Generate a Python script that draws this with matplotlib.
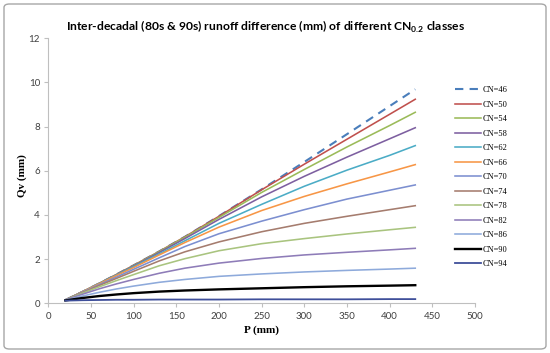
import matplotlib
matplotlib.use("Agg")
import matplotlib.pyplot as plt
from matplotlib.patches import FancyBboxPatch

# ---- data ----
P = [20, 40, 60, 80, 100, 130, 160, 200, 250, 300, 350, 400, 430]
cn_labels = ["CN=46", "CN=50", "CN=54", "CN=58", "CN=62", "CN=66", "CN=70",
             "CN=74", "CN=78", "CN=82", "CN=86", "CN=90", "CN=94"]
cn46 = [0.15, 0.52, 0.91, 1.31, 1.72, 2.35, 3.01, 3.95, 5.16, 6.40, 7.66, 8.93, 9.69]
cn50 = [0.15, 0.52, 0.91, 1.31, 1.72, 2.35, 3.01, 3.94, 5.14, 6.30, 7.43, 8.56, 9.24]
cn54 = [0.15, 0.52, 0.91, 1.30, 1.71, 2.34, 2.99, 3.89, 5.02, 6.06, 7.08, 8.05, 8.65]
cn58 = [0.15, 0.52, 0.90, 1.29, 1.69, 2.30, 2.93, 3.80, 4.82, 5.75, 6.62, 7.45, 7.95]
cn62 = [0.15, 0.52, 0.90, 1.28, 1.66, 2.24, 2.83, 3.62, 4.48, 5.30, 6.03, 6.70, 7.14]
cn66 = [0.15, 0.52, 0.89, 1.26, 1.62, 2.19, 2.75, 3.45, 4.20, 4.84, 5.41, 5.95, 6.28]
cn70 = [0.15, 0.50, 0.85, 1.19, 1.54, 2.06, 2.57, 3.15, 3.72, 4.24, 4.72, 5.12, 5.36]
cn74 = [0.15, 0.48, 0.81, 1.13, 1.45, 1.92, 2.33, 2.78, 3.24, 3.62, 3.94, 4.24, 4.42]
cn78 = [0.15, 0.46, 0.75, 1.03, 1.30, 1.70, 2.02, 2.38, 2.70, 2.93, 3.14, 3.33, 3.44]
cn82 = [0.15, 0.41, 0.66, 0.88, 1.08, 1.36, 1.59, 1.82, 2.03, 2.19, 2.31, 2.42, 2.49]
cn86 = [0.14, 0.33, 0.50, 0.65, 0.78, 0.95, 1.08, 1.22, 1.33, 1.42, 1.49, 1.55, 1.59]
cn90 = [0.13, 0.24, 0.33, 0.40, 0.46, 0.53, 0.58, 0.63, 0.68, 0.73, 0.77, 0.80, 0.82]
cn94 = [0.12, 0.14, 0.15, 0.16, 0.16, 0.17, 0.17, 0.17, 0.18, 0.18, 0.18, 0.19, 0.19]
series = [cn46, cn50, cn54, cn58, cn62, cn66, cn70, cn74, cn78, cn82, cn86, cn90, cn94]
x_ticks = [0, 50, 100, 150, 200, 250, 300, 350, 400, 450, 500]
y_ticks = [0, 2, 4, 6, 8, 10, 12]

# ---- styles ----
colors = ["#4A7EBB", "#C0504D", "#9BBB59", "#7D5FA0", "#4BACC6", "#F79646",
          "#7C8FD0", "#A57C6E", "#A9C47F", "#8E7CB8", "#8EAADB", "#000000", "#3F4F9A"]
styles = ["--"] + ["-"] * 12
widths = [1.5] + [1.15] * 10 + [1.7, 1.3]

fig = plt.figure(figsize=(5.5, 3.53), dpi=100)
fig.patch.set_facecolor("white")
border = FancyBboxPatch((4 / 550, 4 / 353), 542 / 550, 345 / 353,
                        boxstyle="round,pad=0,rounding_size=0.01",
                        transform=fig.transFigure, facecolor="none",
                        edgecolor="#A6A6A6", linewidth=1.0)
fig.add_artist(border)

ax = fig.add_axes([48.3 / 550, 49.7 / 353, 426.7 / 550, 265.0 / 353])
handles = []
for s, c, ls, lw, lab in zip(series, colors, styles, widths, cn_labels):
    if ls == "--":
        h, = ax.plot(P, s, color=c, linestyle="--", dashes=(4, 3), linewidth=lw, label=lab)
    else:
        h, = ax.plot(P, s, color=c, linestyle="-", linewidth=lw, label=lab)
    handles.append(h)

ax.set_xlim(0, 500)
ax.set_ylim(0, 12)
ax.set_xticks(x_ticks)
ax.set_yticks(y_ticks)
for side in ["top", "right"]:
    ax.spines[side].set_visible(False)
for side in ["left", "bottom"]:
    ax.spines[side].set_color("#BFBFBF")
    ax.spines[side].set_linewidth(0.8)
ax.tick_params(axis="both", direction="out", length=3, width=0.8, color="#BFBFBF",
               labelsize=7, labelcolor="#404040", pad=3)
for lbl in ax.get_xticklabels() + ax.get_yticklabels():
    lbl.set_family("Lato")

fig.text(261.6 / 550, 1 - 330 / 353, "P (mm)", ha="center", va="center",
         fontsize=8, fontweight="bold", family="Liberation Serif")
fig.text(22 / 550, 1 - 176 / 353, "Qv (mm)", ha="center", va="center",
         rotation=90, fontsize=8, fontweight="bold", family="Liberation Serif")

fig.text(266 / 550, 1 - 27 / 353,
         r"Inter-decadal (80s & 90s) runoff difference (mm) of different CN$_{\mathregular{0.2}}$ classes",
         ha="center", va="center", fontsize=8.7, fontweight="bold", family="Lato")

leg = fig.legend(handles=handles, loc="upper left",
                 bbox_to_anchor=(452 / 550, 1 - 83 / 353),
                 frameon=False, handlelength=3.1, handletextpad=0.2,
                 labelspacing=0.78, borderaxespad=0,
                 prop={"family": "Liberation Serif", "size": 6})

fig.savefig("out.png", dpi=100, facecolor="white")
